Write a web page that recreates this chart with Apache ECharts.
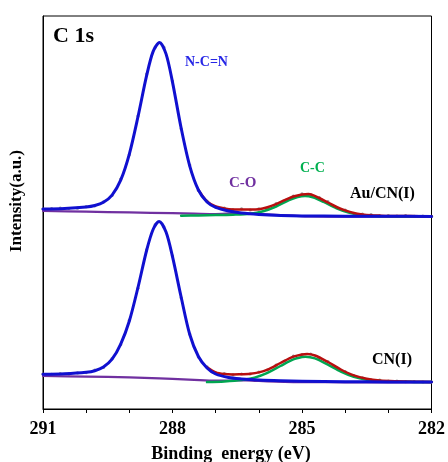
<!DOCTYPE html>
<html>
<head>
<meta charset="utf-8">
<script src="https://cdn.jsdelivr.net/npm/echarts@6/dist/echarts.min.js"></script>
<style>
  html, body { margin: 0; padding: 0; background: #fff; }
  #chart { width: 448px; height: 462px; }
</style>
</head>
<body>
<div id="chart"></div>
<script>
// C 1s XPS spectra of Au/CN(I) (upper trace) and CN(I) (lower trace), stacked with a vertical offset.

// Binding energy grid of the measured points (eV)
const rawEnergy = [291.0, 290.8, 290.6, 290.4, 290.2, 290.0, 289.8, 289.6, 289.4, 289.2,
  289.0, 288.8, 288.6, 288.4, 288.2, 288.0, 287.8, 287.6, 287.4, 287.2,
  287.0, 286.8, 286.6, 286.4, 286.2, 286.0, 285.8, 285.6, 285.4, 285.2,
  285.0, 284.8, 284.6, 284.4, 284.2, 284.0, 283.8, 283.6, 283.4, 283.2,
  283.0, 282.8, 282.6, 282.4, 282.2, 282.0];

// Measured intensities (a.u., offset traces)
const auRaw = [200.0, 200.3, 200.9, 200.5, 200.8, 202.3, 203.2, 207.2, 213.5, 230.0,
  254.2, 293.0, 335.0, 362.0, 361.8, 328.0, 280.2, 244.0, 218.6, 207.9,
  202.2, 201.0, 199.3, 200.2, 199.0, 200.1, 201.0, 205.3, 208.4, 212.9,
  215.2, 214.4, 211.5, 207.3, 201.6, 199.0, 195.6, 195.0, 194.3, 193.1,
  193.5, 192.8, 193.4, 192.6, 193.0, 192.7];

const cnRaw = [34.9, 34.6, 35.4, 35.1, 36.1, 36.4, 38.8, 41.6, 50.4, 64.3,
  88.8, 120.7, 159.2, 184.3, 182.0, 153.1, 111.2, 75.0, 52.0, 42.1,
  36.2, 35.3, 34.3, 35.0, 35.0, 36.9, 39.0, 43.9, 48.0, 52.8,
  54.3, 55.0, 51.2, 47.4, 41.5, 37.3, 33.3, 31.2, 29.1, 28.8,
  27.8, 27.9, 27.3, 27.5, 27.0, 27.2];

// Fitted components for Au/CN(I): [eV, intensity]
const auNCN = [[291, 200.0], [290.5, 200.5], [290, 202.0], [289.8, 203.5], [289.6, 206.7],
  [289.4, 213.9], [289.2, 228.8], [289.0, 254.9], [288.8, 292.2], [288.6, 333.3],
  [288.45, 357.4], [288.3, 366.6], [288.15, 355.1], [288.0, 326.9], [287.8, 281.0],
  [287.6, 242.9], [287.4, 219.0], [287.2, 207.0], [287.0, 201.6], [286.7, 198.0],
  [286.4, 196.0], [286.0, 194.6], [285.5, 193.6], [285.0, 193.1], [284.0, 192.8],
  [283.0, 192.7], [282.0, 192.6]];
const auCC = [[287.8, 193.3], [287.4, 193.5], [287.0, 194.0], [286.6, 194.3], [286.2, 195.2],
  [285.9, 197.7], [285.6, 202.5], [285.3, 208.8], [285.1, 212.0], [284.93, 213.0],
  [284.75, 211.7], [284.5, 207.1], [284.2, 200.6], [283.9, 196.1], [283.6, 193.8],
  [283.3, 193.0], [283.0, 192.7], [282.5, 192.55], [282.0, 192.45]];
const auCO = [[291, 198.0], [290, 197.3], [289, 196.6], [288, 195.8], [287.5, 195.4],
  [287, 195.0], [286.6, 195.6], [286.3, 195.7], [286, 195.2], [285.6, 194.2],
  [285.2, 193.3], [284.8, 192.6], [284, 192.4], [283, 192.3], [282, 192.3]];
const auEnvelope = [[287.4, 219.1], [287.2, 207.6], [287.0, 202.6], [286.8, 200.6], [286.6, 199.6],
  [286.4, 199.5], [286.2, 199.4], [286.0, 199.8], [285.8, 201.8], [285.6, 204.9],
  [285.4, 208.8], [285.2, 212.5], [285.0, 214.6], [284.85, 215.0], [284.6, 211.0],
  [284.4, 206.5], [284.2, 202.0], [284.0, 198.6], [283.8, 196.0], [283.6, 194.6],
  [283.4, 193.8], [283.2, 193.4], [283.0, 193.1], [282.5, 192.9], [282.0, 192.7]];

// Fitted components for CN(I): [eV, intensity]
const cnNCN = [[291, 34.7], [290.5, 35.2], [290, 36.7], [289.8, 38.3], [289.6, 42.0],
  [289.4, 49.8], [289.2, 64.9], [289.0, 88.0], [288.8, 121.5], [288.6, 158.5],
  [288.45, 179.5], [288.31, 187.5], [288.15, 177.0], [288.0, 152.3], [287.8, 112.0],
  [287.6, 74.5], [287.4, 52.5], [287.2, 41.0], [287.0, 35.0], [286.7, 31.5],
  [286.4, 30.1], [286.0, 29.0], [285.5, 28.25], [285.0, 27.8], [284.0, 27.3],
  [283.0, 27.05], [282.0, 26.95]];
const cnCC = [[287.2, 26.9], [286.8, 27.5], [286.4, 28.9], [286.1, 31.4], [285.8, 36.2],
  [285.5, 43.0], [285.2, 49.6], [285.0, 52.0], [284.92, 52.3], [284.7, 50.6],
  [284.4, 44.4], [284.1, 37.4], [283.8, 32.2], [283.5, 29.3], [283.2, 28.0],
  [282.8, 27.3], [282.4, 27.1], [282.0, 27.0]];
const cnCO = [[291, 33.0], [290, 32.4], [289, 31.6], [288.3, 30.7], [288, 30.2],
  [287.5, 29.2], [287, 28.4], [286.6, 28.5], [286.3, 28.5], [286, 28.0],
  [285.6, 27.3], [285.2, 26.9], [284.8, 26.8], [284, 26.7], [283, 26.7], [282, 26.7]];
const cnEnvelope = [[287.2, 41.6], [287.0, 36.5], [286.8, 34.9], [286.6, 34.6], [286.45, 34.7],
  [286.2, 35.3], [286.0, 36.6], [285.8, 39.3], [285.5, 46.0], [285.2, 52.3],
  [285.0, 54.6], [284.88, 55.0], [284.7, 53.5], [284.4, 47.0], [284.1, 39.5],
  [283.8, 33.6], [283.5, 30.2], [283.2, 28.5], [282.8, 27.7], [282.4, 27.3], [282.0, 27.1]];

// Axis settings
const energyMin = 282, energyMax = 291, energyStep = 3;
const intensityMax = 393;

const serif = '"Liberation Serif", "Times New Roman", serif';
const colors = { ncn: '#1010d0', cc: '#00a651', co: '#7030a0', env: '#b80f0f', raw: '#7d7d7d' };

function zip(xs, ys) { return xs.map((x, i) => [x, ys[i]]); }

function fitLine(name, data, color, width) {
  return {
    name, type: 'line', data, showSymbol: false, smooth: 0.3,
    lineStyle: { color, width, join: 'round', cap: 'round' }, itemStyle: { color },
    silent: true, animation: false
  };
}
function rawPoints(name, data) {
  return {
    name, type: 'scatter', data, symbol: 'circle', symbolSize: 3.2,
    itemStyle: { color: colors.raw, opacity: 0.8 }, silent: true, animation: false
  };
}

const chart = echarts.init(document.getElementById('chart'), null, { renderer: 'canvas' });

chart.setOption({
  backgroundColor: '#fff',
  animation: false,
  grid: { left: 43, right: 15, top: 16, bottom: 53, show: true, borderColor: '#000', borderWidth: 1 },
  xAxis: {
    type: 'value', min: energyMin, max: energyMax, interval: energyStep, inverse: true,
    axisLine: { show: true, lineStyle: { color: '#000', width: 1 } },
    axisTick: { show: true, inside: false, length: 4, lineStyle: { color: '#000' } },
    minorTick: { show: true, splitNumber: 3, length: 4, lineStyle: { color: '#000' } },
    splitLine: { show: false },
    axisLabel: { color: '#000', fontFamily: serif, fontWeight: 'bold', fontSize: 18, margin: 11 }
  },
  yAxis: {
    type: 'value', min: 0, max: intensityMax,
    axisLine: { show: true, lineStyle: { color: '#000', width: 1 } },
    axisTick: { show: false }, axisLabel: { show: false }, splitLine: { show: false }
  },
  graphic: [
    { type: 'text', x: 53, y: 36, style: { text: 'C 1s', font: 'bold 22px ' + serif, fill: '#000', align: 'left', verticalAlign: 'middle' } },
    { type: 'text', x: 185, y: 62, style: { text: 'N-C=N', font: 'bold 14px ' + serif, fill: '#2626e6', align: 'left', verticalAlign: 'middle' } },
    { type: 'text', x: 229, y: 183, style: { text: 'C-O', font: 'bold 15px ' + serif, fill: colors.co, align: 'left', verticalAlign: 'middle' } },
    { type: 'text', x: 300, y: 168, style: { text: 'C-C', font: 'bold 14px ' + serif, fill: '#00b050', align: 'left', verticalAlign: 'middle' } },
    { type: 'text', x: 350, y: 194, style: { text: 'Au/CN(I)', font: 'bold 16px ' + serif, fill: '#000', align: 'left', verticalAlign: 'middle' } },
    { type: 'text', x: 372, y: 360, style: { text: 'CN(I)', font: 'bold 16px ' + serif, fill: '#000', align: 'left', verticalAlign: 'middle' } },
    { type: 'text', x: 231, y: 454, style: { text: 'Binding  energy (eV)', font: 'bold 18px ' + serif, fill: '#000', align: 'center', verticalAlign: 'middle' } },
    { type: 'text', x: 17, y: 201, rotation: Math.PI / 2, style: { text: 'Intensity(a.u.)', font: 'bold 17px ' + serif, fill: '#000', align: 'center', verticalAlign: 'middle' } }
  ],
  series: [
    fitLine('CN(I) C-O', cnCO, colors.co, 2.2),
    fitLine('CN(I) C-C', cnCC, colors.cc, 2.5),
    fitLine('CN(I) fit', cnEnvelope, colors.env, 2.5),
    fitLine('CN(I) N-C=N', cnNCN, colors.ncn, 3),
    rawPoints('CN(I) data', zip(rawEnergy, cnRaw)),
    fitLine('Au/CN(I) C-O', auCO, colors.co, 2.2),
    fitLine('Au/CN(I) C-C', auCC, colors.cc, 2.5),
    fitLine('Au/CN(I) fit', auEnvelope, colors.env, 2.5),
    fitLine('Au/CN(I) N-C=N', auNCN, colors.ncn, 3),
    rawPoints('Au/CN(I) data', zip(rawEnergy, auRaw))
  ]
});
</script>
</body>
</html>
